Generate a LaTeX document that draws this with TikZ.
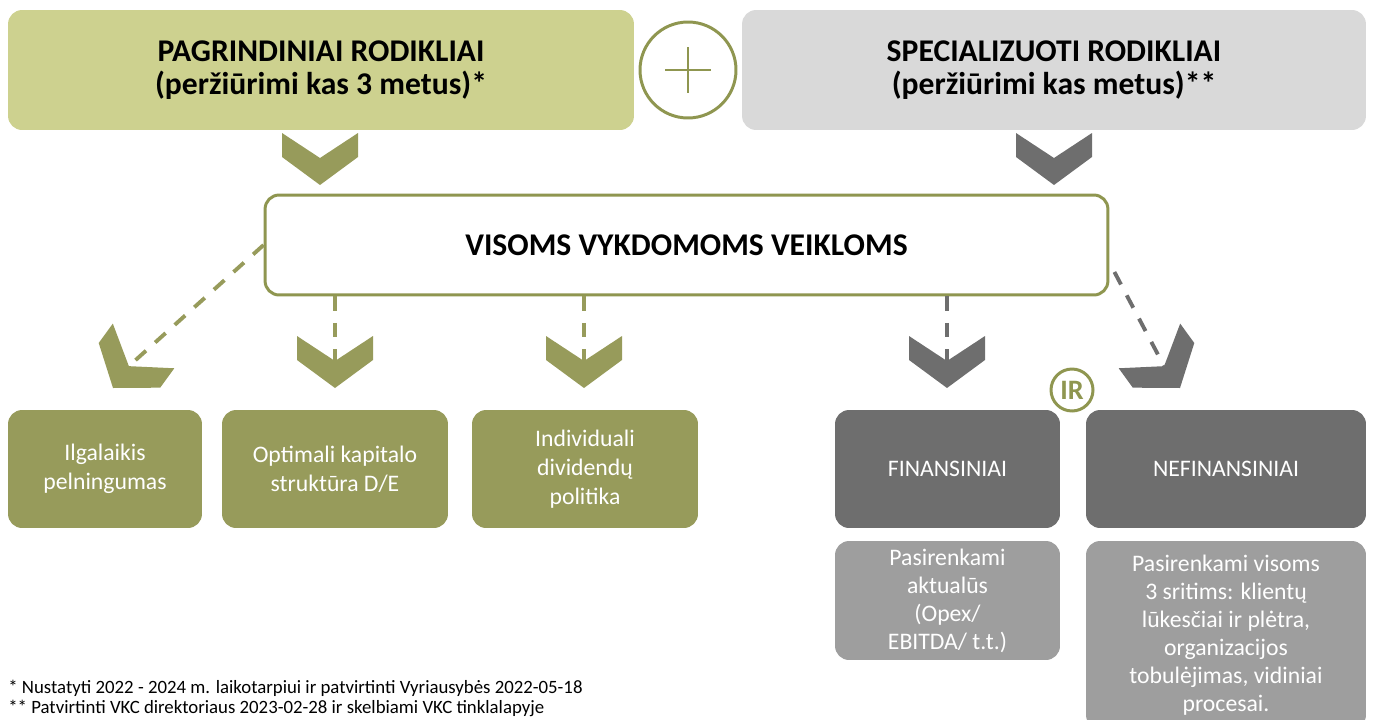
\documentclass[tikz,border=0pt]{standalone}
\usepackage{fontspec}
\setmainfont{Carlito}
\usepackage{xcolor}
\usetikzlibrary{calc}

\definecolor{kpilight}{HTML}{CDD18F}
\definecolor{kpiolive}{HTML}{979B5B}
\definecolor{kpiline}{HTML}{8F9650}
\definecolor{kpigray}{HTML}{D9D9D9}
\definecolor{kpidark}{HTML}{6E6E6E}
\definecolor{kpimid}{HTML}{9E9E9E}

\tikzset{
  topbox/.style={rounded corners=8pt, minimum height=2.4cm, align=center,
    font=\fontsize{18}{18.7}\selectfont\bfseries},
  kpibox/.style={rounded corners=8pt, minimum height=2.36cm, align=center,
    text=white, font=\fontsize{13.5}{16.4}\selectfont},
  notebox/.style={rounded corners=8pt, align=center, fill=kpimid,
    text=white, font=\fontsize{13.5}{15.9}\selectfont},
  dashline/.style={line width=2.2pt, dash pattern=on 8pt off 7pt},
  pics/chev/.style={code={
    \fill[#1] (0,0) -- (-38,-28) -- (-38,-52) -- (0,-27) -- (38,-52) -- (38,-28) -- cycle;}}
}

\begin{document}
\begin{tikzpicture}[x=0.02cm, y=-0.02cm]
    \useasboundingbox (0,0) rectangle (1373,720);

    % Top boxes
    \node[topbox, fill=kpilight, minimum width=12.52cm] (core) at (321,70)
        {PAGRINDINIAI RODIKLIAI\\(peržiūrimi kas 3 metus)*};
    \node[topbox, fill=kpigray, minimum width=12.48cm] (special) at (1054,70)
        {SPECIALIZUOTI RODIKLIAI\\(peržiūrimi kas metus)**};

    % Plus sign
    \node[circle, draw=kpiline, line width=1.7pt, minimum size=1.92cm] (plus) at (688,70) {};
    \draw[kpiline, line width=1.2pt] ([xshift=-0.46cm]plus.center) -- ([xshift=0.46cm]plus.center);
    \draw[kpiline, line width=1.2pt] ([yshift=0.46cm]plus.center) -- ([yshift=-0.46cm]plus.center);

    % Chevrons under the top boxes
    \pic at (320,185) {chev=kpiolive};
    \pic at (1054,185) {chev=kpidark};

    % Middle box
    \node[draw=kpiline, line width=1.7pt, rounded corners=8pt, fill=white,
        minimum width=16.86cm, minimum height=2cm,
        font=\fontsize{18}{20}\selectfont\bfseries] (main) at (686.5,245)
        {VISOMS VYKDOMOMS VEIKLOMS};

    % Chevrons above the lower boxes
    \pic[rotate=-36] at (113,388) {chev=kpiolive};
    \pic at (335,388) {chev=kpiolive};
    \pic at (584,388) {chev=kpiolive};
    \pic at (947,388) {chev=kpidark};
    \pic[rotate=36] at (1180,388) {chev=kpidark};
    \coordinate (c1) at (129,366);
    \coordinate (c2) at (335,361);
    \coordinate (c3) at (584,361);
    \coordinate (c4) at (947,361);
    \coordinate (c5) at (1164,366);

    % Dashed connectors
    \draw[dashline, kpiolive] (main.west) -- (c1);
    \draw[dashline, kpiolive] (main.south -| c2) -- (c2);
    \draw[dashline, kpiolive] (main.south -| c3) -- (c3);
    \draw[dashline, kpidark] (main.south -| c4) -- (c4);
    \draw[dashline, kpidark] ([shift={(5,27)}]main.east) -- (c5);

    % Core indicators
    \node[kpibox, fill=kpiolive, minimum width=3.88cm] (profit) at (105,469)
        {Ilgalaikis\\pelningumas};
    \node[kpibox, fill=kpiolive, minimum width=4.52cm] (capital) at (335,469)
        {Optimali kapitalo\\struktūra D/E};
    \node[kpibox, fill=kpiolive, minimum width=4.52cm] (dividend) at (585,469)
        {Individuali\\dividendų\\politika};

    % Specialised indicators
    \node[kpibox, fill=kpidark, minimum width=4.5cm] (fin) at (947.5,469) {FINANSINIAI};
    \node[kpibox, fill=kpidark, minimum width=5.6cm] (nonfin) at (1226,469) {NEFINANSINIAI};
    \node[circle, draw=kpiline, line width=1.7pt, fill=white, minimum size=0.84cm,
        text=kpiline, font=\fontsize{16}{16}\selectfont\bfseries, inner sep=0pt] (ir) at (1072,390) {IR};

    \node[notebox, minimum width=4.5cm, minimum height=2.38cm] (finnote) at (947.5,600.5)
        {Pasirenkami\\aktualūs\\(Opex/\\EBITDA/ t.t.)};
    \node[notebox, minimum width=5.6cm, minimum height=3.76cm] (nonfinnote) at (1226,635)
        {Pasirenkami visoms\\3 sritims: klientų\\lūkesčiai ir plėtra,\\organizacijos\\tobulėjimas, vidiniai\\procesai.};

    % Footnotes
    \node[anchor=west, align=left, inner sep=0pt, font=\fontsize{10.7}{11.4}\selectfont] (notes) at (8,698)
        {* Nustatyti 2022 - 2024 m. laikotarpiui ir patvirtinti Vyriausybės 2022-05-18\\
         ** Patvirtinti VKC direktoriaus 2023-02-28 ir skelbiami VKC tinklalapyje};

\end{tikzpicture}
\end{document}
